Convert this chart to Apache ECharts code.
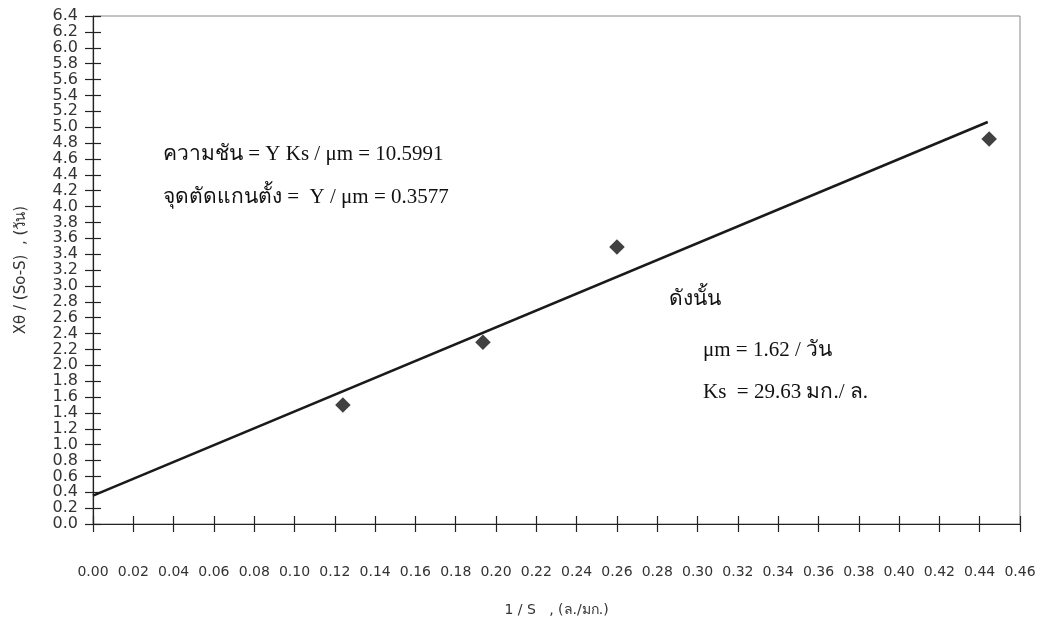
<!DOCTYPE html>
<html>
<head>
<meta charset="utf-8">
<script src="https://cdn.jsdelivr.net/npm/echarts@6/dist/echarts.min.js"></script>
<style>
  html, body { margin: 0; padding: 0; background: #fff; }
  #chart { width: 1049px; height: 622px; }
</style>
</head>
<body>
<div id="chart"></div>
<script>
// Measured points: 1/S against Xθ/(So-S)
const invS = [0.124, 0.1935, 0.260, 0.4447];
const xTheta = [1.50, 2.29, 3.49, 4.85];

// Fitted straight line (slope 10.5991, intercept 0.3577)
const fitX = [0, 0.444];
const fitY = [0.3577, 5.064];

// Axis ranges
const xMin = 0, xMax = 0.46, xStep = 0.02;
const yMin = 0, yMax = 6.4, yStep = 0.2;

// Annotation text
const slopeText = 'ความชัน = Y Ks / μm = 10.5991';
const interceptText = 'จุดตัดแกนตั้ง =  Y / μm = 0.3577';
const thereforeText = 'ดังนั้น';
const umText = 'μm = 1.62 / วัน';
const ksText = 'Ks  = 29.63 มก./ ล.';

const points = invS.map((x, i) => [x, xTheta[i]]);
const fitLine = fitX.map((x, i) => [x, fitY[i]]);

const chart = echarts.init(document.getElementById('chart'), null, { renderer: 'canvas' });

const axisLineStyle = { color: '#222', width: 1.2 };
const serif = '"Liberation Serif", "Times New Roman", serif';

const xBase = { type: 'value', min: xMin, max: xMax, interval: xStep, splitLine: { show: false } };
const yBase = { type: 'value', min: yMin, max: yMax, interval: yStep, splitLine: { show: false } };

chart.setOption({
  animation: false,
  backgroundColor: '#fff',
  grid: {
    left: 93, right: 29, top: 16, bottom: 94,
    show: true, borderColor: '#888', borderWidth: 1, backgroundColor: 'transparent'
  },
  xAxis: [
    Object.assign({}, xBase, {
      position: 'bottom',
      name: '1 / S   , (ล./มก.)',
      nameLocation: 'middle',
      nameGap: 79,
      nameTextStyle: { fontFamily: 'DejaVu Sans', fontSize: 14, color: '#333' },
      axisLine: { show: true, lineStyle: axisLineStyle },
      axisTick: { show: true, inside: false, length: 8, lineStyle: axisLineStyle },
      axisLabel: {
        margin: 41, fontFamily: 'DejaVu Sans', fontSize: 14, color: '#333',
        formatter: v => v.toFixed(2)
      }
    }),
    Object.assign({}, xBase, {
      position: 'bottom',
      axisLine: { show: false },
      axisTick: { show: true, inside: true, length: 8, lineStyle: axisLineStyle },
      axisLabel: { show: false }
    })
  ],
  yAxis: [
    Object.assign({}, yBase, {
      position: 'left',
      name: 'Xθ / (So-S)  , (วัน)',
      nameLocation: 'middle',
      nameGap: 64,
      nameTextStyle: { fontFamily: 'DejaVu Sans', fontSize: 15, color: '#333' },
      axisLine: { show: true, lineStyle: axisLineStyle },
      axisTick: { show: true, inside: false, length: 8, lineStyle: axisLineStyle },
      axisLabel: {
        margin: 15, fontFamily: 'DejaVu Sans', fontSize: 16, color: '#333',
        formatter: v => v.toFixed(1)
      }
    }),
    Object.assign({}, yBase, {
      position: 'left',
      axisLine: { show: false },
      axisTick: { show: true, inside: true, length: 8, lineStyle: axisLineStyle },
      axisLabel: { show: false }
    })
  ],
  series: [
    {
      type: 'line',
      data: fitLine,
      symbol: 'none',
      lineStyle: { color: '#1a1a1a', width: 2.6 },
      z: 3
    },
    {
      type: 'scatter',
      data: points,
      symbol: 'rect',
      symbolSize: 11,
      symbolRotate: 45,
      itemStyle: { color: '#111' },
      z: 4
    }
  ],
  graphic: [
    { type: 'text', left: 163, top: 144, style: { text: slopeText, font: '21px ' + serif, fill: '#111' } },
    { type: 'text', left: 163, top: 187, style: { text: interceptText, font: '21px ' + serif, fill: '#111' } },
    { type: 'text', left: 669, top: 289, style: { text: thereforeText, font: '21px ' + serif, fill: '#111' } },
    { type: 'text', left: 703, top: 340, style: { text: umText, font: '21px ' + serif, fill: '#111' } },
    { type: 'text', left: 703, top: 382, style: { text: ksText, font: '21px ' + serif, fill: '#111' } }
  ]
});
</script>
</body>
</html>
